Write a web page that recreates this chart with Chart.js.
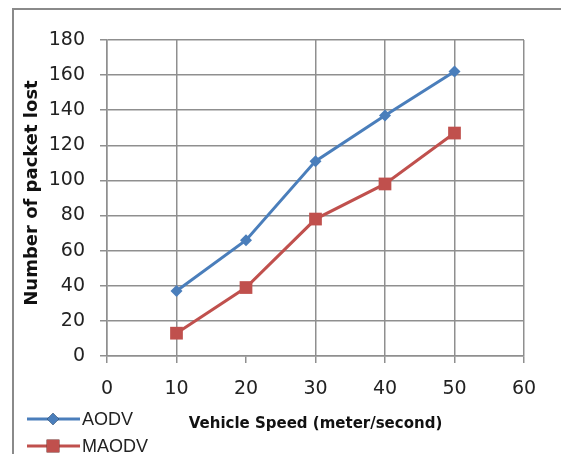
<!DOCTYPE html>
<html>
<head>
<meta charset="utf-8">
<script src="https://cdn.jsdelivr.net/npm/chart.js@4/dist/chart.umd.min.js"></script>
<style>
  html, body { margin: 0; padding: 0; background: #fff; }
  #wrap { width: 561px; height: 454px; }
</style>
</head>
<body>
<div id="wrap"><canvas id="c" width="561" height="454"></canvas></div>
<script>
// Vehicle speed (m/s) and packets lost per routing protocol
const speeds = [10, 20, 30, 40, 50];
const aodvLost = [37, 66, 111, 137, 162];
const maodvLost = [13, 39, 78, 98, 127];
const seriesNames = ['AODV', 'MAODV'];

const xTicks = [0, 10, 20, 30, 40, 50, 60];
const yTicks = [0, 20, 40, 60, 80, 100, 120, 140, 160, 180];

const xTitle = 'Vehicle Speed (meter/second)';
const yTitle = 'Number of packet lost';

const GRID = '#8f8f8f';
const BLUE = '#4a7ebb';
const RED = '#c0504d';

const toPoints = vals => speeds.map((s, i) => ({ x: s, y: vals[i] }));

// Frame around the whole figure, open to the right and bottom
const framePlugin = {
  id: 'frame',
  beforeDraw(chart) {
    const ctx = chart.ctx;
    ctx.save();
    ctx.fillStyle = '#fff';
    ctx.fillRect(0, 0, chart.width, chart.height);
    ctx.strokeStyle = '#8a8a8a';
    ctx.lineWidth = 2;
    ctx.strokeRect(13, 9, chart.width + 20, chart.height + 20);
    ctx.restore();
  }
};

// Vertical axis title, set slightly above the plot's middle
const yTitlePlugin = {
  id: 'yTitle',
  afterDraw(chart) {
    const ctx = chart.ctx;
    ctx.save();
    ctx.translate(32, 193);
    ctx.rotate(-Math.PI / 2);
    ctx.fillStyle = '#111';
    ctx.font = 'bold 18px "DejaVu Sans"';
    ctx.textAlign = 'center';
    ctx.textBaseline = 'middle';
    ctx.fillText(yTitle, 0, 0);
    ctx.restore();
  }
};

// Stacked legend in the lower-left corner
const sideLegend = {
  id: 'sideLegend',
  afterDraw(chart) {
    const ctx = chart.ctx;
    ctx.save();
    chart.data.datasets.forEach((ds, i) => {
      const y = 419 + i * 27;
      ctx.strokeStyle = ds.borderColor;
      ctx.lineWidth = 3;
      ctx.beginPath();
      ctx.moveTo(27, y);
      ctx.lineTo(80, y);
      ctx.stroke();
      Chart.helpers.drawPoint(ctx, {
        pointStyle: ds.pointStyle,
        radius: ds.pointRadius,
        borderWidth: 0
      }, 53, y);
      ctx.fillStyle = ds.backgroundColor;
      ctx.fill();
      ctx.fillStyle = '#222';
      ctx.font = '18px "Liberation Sans"';
      ctx.textBaseline = 'middle';
      ctx.textAlign = 'left';
      ctx.fillText(ds.label, 82, y + 1);
    });
    ctx.restore();
  }
};

new Chart(document.getElementById('c'), {
  type: 'line',
  data: {
    datasets: [
      {
        label: seriesNames[0],
        data: toPoints(aodvLost),
        borderColor: BLUE,
        backgroundColor: BLUE,
        borderWidth: 3,
        pointStyle: 'rectRot',
        pointRadius: 6,
        pointHoverRadius: 6,
        pointBorderWidth: 0,
        tension: 0
      },
      {
        label: seriesNames[1],
        data: toPoints(maodvLost),
        borderColor: RED,
        backgroundColor: RED,
        borderWidth: 3,
        pointStyle: 'rect',
        pointRadius: 9,
        pointHoverRadius: 9,
        pointBorderWidth: 0,
        tension: 0
      }
    ]
  },
  options: {
    responsive: false,
    animation: false,
    devicePixelRatio: 1,
    layout: { padding: { left: 0, top: 40, right: 37, bottom: 0 } },
    plugins: {
      legend: { display: false },
      tooltip: { enabled: false }
    },
    scales: {
      x: {
        type: 'linear',
        min: 0,
        max: 60,
        afterBuildTicks: s => { s.ticks = xTicks.map(v => ({ value: v })); },
        afterFit: s => { s.height = 98; },
        grid: {
          color: c => (c.tick && c.tick.value === 20 ? 'rgba(0,0,0,0)' : GRID),
          lineWidth: 1.5,
          tickLength: 7,
          tickColor: GRID
        },
        border: { color: GRID, width: 1.5 },
        ticks: {
          padding: 15,
          color: '#222',
          font: { family: '"DejaVu Sans"', size: 19 }
        },
        title: {
          display: true,
          text: xTitle,
          color: '#111',
          font: { family: '"DejaVu Sans"', size: 15, weight: 'bold' },
          padding: { top: 0, bottom: 21 }
        }
      },
      y: {
        type: 'linear',
        min: 0,
        max: 180,
        afterBuildTicks: s => { s.ticks = yTicks.map(v => ({ value: v })); },
        afterFit: s => { s.width = 107; },
        grid: {
          color: GRID,
          lineWidth: 1.5,
          tickLength: 7,
          tickColor: GRID
        },
        border: { color: GRID, width: 1.5 },
        ticks: {
          padding: 15,
          color: '#222',
          font: { family: '"DejaVu Sans"', size: 19 }
        },
        title: { display: false }
      }
    }
  },
  plugins: [framePlugin, yTitlePlugin, sideLegend]
});
</script>
</body>
</html>
